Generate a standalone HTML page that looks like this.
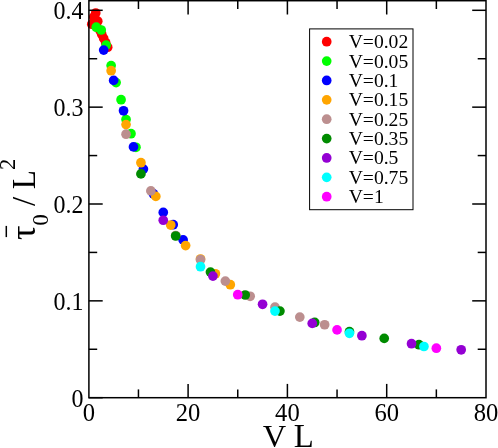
<!DOCTYPE html>
<html><head><meta charset="utf-8"><title>plot</title>
<style>
html,body{margin:0;padding:0;background:#fff;}
body{width:498px;height:448px;overflow:hidden;}
svg{display:block;will-change:transform;}
text{font-family:"Liberation Serif",serif;fill:#000;}
</style></head><body>
<svg width="498" height="448" viewBox="0 0 498 448">
<rect x="0" y="0" width="498" height="448" fill="#ffffff"/>

<g stroke="none">
<circle cx="91.78" cy="24.20" r="4.85" fill="#ff0000"/>
<circle cx="93.77" cy="17.00" r="4.85" fill="#ff0000"/>
<circle cx="95.75" cy="13.00" r="4.85" fill="#ff0000"/>
<circle cx="97.74" cy="21.20" r="4.85" fill="#ff0000"/>
<circle cx="99.72" cy="30.00" r="4.85" fill="#ff0000"/>
<circle cx="101.71" cy="34.30" r="4.85" fill="#ff0000"/>
<circle cx="103.69" cy="38.40" r="4.85" fill="#ff0000"/>
<circle cx="105.68" cy="42.80" r="4.85" fill="#ff0000"/>
<circle cx="107.67" cy="47.20" r="4.85" fill="#ff0000"/>
<circle cx="96.25" cy="27.20" r="4.85" fill="#00ff00"/>
<circle cx="101.21" cy="30.00" r="4.85" fill="#00ff00"/>
<circle cx="106.18" cy="45.10" r="4.85" fill="#00ff00"/>
<circle cx="111.14" cy="65.60" r="4.85" fill="#00ff00"/>
<circle cx="116.11" cy="82.60" r="4.85" fill="#00ff00"/>
<circle cx="121.07" cy="99.70" r="4.85" fill="#00ff00"/>
<circle cx="126.04" cy="119.50" r="4.85" fill="#00ff00"/>
<circle cx="131.00" cy="133.70" r="4.85" fill="#00ff00"/>
<circle cx="135.97" cy="147.30" r="4.85" fill="#00ff00"/>
<circle cx="103.69" cy="50.10" r="4.85" fill="#0000ff"/>
<circle cx="113.62" cy="80.40" r="4.85" fill="#0000ff"/>
<circle cx="123.55" cy="110.80" r="4.85" fill="#0000ff"/>
<circle cx="133.49" cy="146.90" r="4.85" fill="#0000ff"/>
<circle cx="143.41" cy="169.10" r="4.85" fill="#0000ff"/>
<circle cx="153.34" cy="193.70" r="4.85" fill="#0000ff"/>
<circle cx="163.27" cy="212.40" r="4.85" fill="#0000ff"/>
<circle cx="173.20" cy="224.70" r="4.85" fill="#0000ff"/>
<circle cx="183.13" cy="239.90" r="4.85" fill="#0000ff"/>
<circle cx="111.14" cy="70.70" r="4.85" fill="#ffa500"/>
<circle cx="126.04" cy="124.60" r="4.85" fill="#ffa500"/>
<circle cx="140.93" cy="162.70" r="4.85" fill="#ffa500"/>
<circle cx="155.83" cy="196.40" r="4.85" fill="#ffa500"/>
<circle cx="170.72" cy="225.05" r="4.85" fill="#ffa500"/>
<circle cx="185.62" cy="245.60" r="4.85" fill="#ffa500"/>
<circle cx="200.51" cy="259.00" r="4.85" fill="#ffa500"/>
<circle cx="215.41" cy="273.80" r="4.85" fill="#ffa500"/>
<circle cx="230.30" cy="284.70" r="4.85" fill="#ffa500"/>
<circle cx="126.04" cy="134.20" r="4.85" fill="#bc8f8f"/>
<circle cx="150.86" cy="190.90" r="4.85" fill="#bc8f8f"/>
<circle cx="175.69" cy="235.50" r="4.85" fill="#bc8f8f"/>
<circle cx="200.51" cy="259.70" r="4.85" fill="#bc8f8f"/>
<circle cx="225.34" cy="281.10" r="4.85" fill="#bc8f8f"/>
<circle cx="250.16" cy="296.30" r="4.85" fill="#bc8f8f"/>
<circle cx="274.99" cy="307.20" r="4.85" fill="#bc8f8f"/>
<circle cx="299.81" cy="317.10" r="4.85" fill="#bc8f8f"/>
<circle cx="324.64" cy="324.75" r="4.85" fill="#bc8f8f"/>
<circle cx="140.93" cy="173.90" r="4.85" fill="#008b00"/>
<circle cx="175.69" cy="236.00" r="4.85" fill="#008b00"/>
<circle cx="210.44" cy="272.10" r="4.85" fill="#008b00"/>
<circle cx="245.20" cy="295.00" r="4.85" fill="#008b00"/>
<circle cx="279.95" cy="311.10" r="4.85" fill="#008b00"/>
<circle cx="314.71" cy="322.45" r="4.85" fill="#008b00"/>
<circle cx="349.46" cy="331.70" r="4.85" fill="#008b00"/>
<circle cx="384.22" cy="338.40" r="4.85" fill="#008b00"/>
<circle cx="418.97" cy="344.70" r="4.85" fill="#008b00"/>
<circle cx="163.27" cy="220.25" r="4.85" fill="#9400d3"/>
<circle cx="212.93" cy="276.10" r="4.85" fill="#9400d3"/>
<circle cx="262.57" cy="304.30" r="4.85" fill="#9400d3"/>
<circle cx="312.22" cy="323.40" r="4.85" fill="#9400d3"/>
<circle cx="361.88" cy="335.70" r="4.85" fill="#9400d3"/>
<circle cx="411.52" cy="343.70" r="4.85" fill="#9400d3"/>
<circle cx="461.18" cy="349.80" r="4.85" fill="#9400d3"/>
<circle cx="200.51" cy="266.70" r="4.85" fill="#00ffff"/>
<circle cx="274.99" cy="311.10" r="4.85" fill="#00ffff"/>
<circle cx="349.46" cy="333.30" r="4.85" fill="#00ffff"/>
<circle cx="423.94" cy="346.50" r="4.85" fill="#00ffff"/>
<circle cx="237.75" cy="294.70" r="4.85" fill="#ff00ff"/>
<circle cx="337.05" cy="329.90" r="4.85" fill="#ff00ff"/>
<circle cx="436.35" cy="348.20" r="4.85" fill="#ff00ff"/>
</g>
<g stroke="#000" stroke-width="1.5" fill="none" stroke-linecap="butt">
<rect x="88.9" y="0.7" width="397.1" height="397.0"/>
<line x1="138.45" y1="397.7" x2="138.45" y2="389.4"/>
<line x1="138.45" y1="0.7" x2="138.45" y2="9.0"/>
<line x1="188.10" y1="397.7" x2="188.10" y2="383.9"/>
<line x1="188.10" y1="0.7" x2="188.10" y2="14.5"/>
<line x1="237.75" y1="397.7" x2="237.75" y2="389.4"/>
<line x1="237.75" y1="0.7" x2="237.75" y2="9.0"/>
<line x1="287.40" y1="397.7" x2="287.40" y2="383.9"/>
<line x1="287.40" y1="0.7" x2="287.40" y2="14.5"/>
<line x1="337.05" y1="397.7" x2="337.05" y2="389.4"/>
<line x1="337.05" y1="0.7" x2="337.05" y2="9.0"/>
<line x1="386.70" y1="397.7" x2="386.70" y2="383.9"/>
<line x1="386.70" y1="0.7" x2="386.70" y2="14.5"/>
<line x1="436.35" y1="397.7" x2="436.35" y2="389.4"/>
<line x1="436.35" y1="0.7" x2="436.35" y2="9.0"/>
<line x1="88.9" y1="349.27" x2="97.2" y2="349.27"/>
<line x1="486.0" y1="349.27" x2="477.7" y2="349.27"/>
<line x1="88.9" y1="300.85" x2="102.7" y2="300.85"/>
<line x1="486.0" y1="300.85" x2="472.2" y2="300.85"/>
<line x1="88.9" y1="252.42" x2="97.2" y2="252.42"/>
<line x1="486.0" y1="252.42" x2="477.7" y2="252.42"/>
<line x1="88.9" y1="204.00" x2="102.7" y2="204.00"/>
<line x1="486.0" y1="204.00" x2="472.2" y2="204.00"/>
<line x1="88.9" y1="155.57" x2="97.2" y2="155.57"/>
<line x1="486.0" y1="155.57" x2="477.7" y2="155.57"/>
<line x1="88.9" y1="107.15" x2="102.7" y2="107.15"/>
<line x1="486.0" y1="107.15" x2="472.2" y2="107.15"/>
<line x1="88.9" y1="58.72" x2="97.2" y2="58.72"/>
<line x1="486.0" y1="58.72" x2="477.7" y2="58.72"/>
<line x1="88.9" y1="10.30" x2="102.7" y2="10.30"/>
<line x1="486.0" y1="10.30" x2="472.2" y2="10.30"/>
<line x1="88.9" y1="397.7" x2="102.7" y2="397.7"/>
</g>
<text transform="translate(88.80,420.6) scale(1.0,1)" font-size="24.6" text-anchor="middle">0</text>
<text transform="translate(188.10,420.6) scale(1.0,1)" font-size="24.6" text-anchor="middle">20</text>
<text transform="translate(287.40,420.6) scale(1.0,1)" font-size="24.6" text-anchor="middle">40</text>
<text transform="translate(386.70,420.6) scale(1.0,1)" font-size="24.6" text-anchor="middle">60</text>
<text transform="translate(486.00,420.6) scale(1.0,1)" font-size="24.6" text-anchor="middle">80</text>
<text transform="translate(83.4,406.50) scale(0.975,1)" font-size="24.6" text-anchor="end">0</text>
<text transform="translate(83.4,309.65) scale(0.975,1)" font-size="24.6" text-anchor="end">0.1</text>
<text transform="translate(83.4,212.80) scale(0.975,1)" font-size="24.6" text-anchor="end">0.2</text>
<text transform="translate(83.4,115.95) scale(0.975,1)" font-size="24.6" text-anchor="end">0.3</text>
<text transform="translate(83.4,19.10) scale(0.975,1)" font-size="24.6" text-anchor="end">0.4</text>
<text x="262.7" y="447" font-size="32.5">V</text>
<text x="293.8" y="447" font-size="32.8">L</text>
<g transform="translate(35.3,240) rotate(-90)">
<text x="0" y="0" font-size="36">τ</text>
<line x1="2.9" y1="-29" x2="14.1" y2="-29" stroke="#000" stroke-width="1.5"/>
<text x="14.6" y="13.0" font-size="22.5">0</text>
<text x="34.1" y="0" font-size="33">/</text>
<text transform="translate(50.8,0) scale(0.94,1)" font-size="33.2">L</text>
<text x="70.0" y="-20.5" font-size="22.5">2</text>
</g>
<rect x="309.6" y="28.9" width="103.4" height="180.8" fill="#fff" stroke="#000" stroke-width="1"/>
<circle cx="326.7" cy="41.70" r="4.85" fill="#ff0000"/>
<text transform="translate(348.7,48.20)" font-size="19.6">V=0.02</text>
<circle cx="326.7" cy="61.08" r="4.85" fill="#00ff00"/>
<text transform="translate(348.7,67.58)" font-size="19.6">V=0.05</text>
<circle cx="326.7" cy="80.45" r="4.85" fill="#0000ff"/>
<text transform="translate(348.7,86.95)" font-size="19.6">V=0.1</text>
<circle cx="326.7" cy="99.83" r="4.85" fill="#ffa500"/>
<text transform="translate(348.7,106.33)" font-size="19.6">V=0.15</text>
<circle cx="326.7" cy="119.20" r="4.85" fill="#bc8f8f"/>
<text transform="translate(348.7,125.70)" font-size="19.6">V=0.25</text>
<circle cx="326.7" cy="138.57" r="4.85" fill="#008b00"/>
<text transform="translate(348.7,145.07)" font-size="19.6">V=0.35</text>
<circle cx="326.7" cy="157.95" r="4.85" fill="#9400d3"/>
<text transform="translate(348.7,164.45)" font-size="19.6">V=0.5</text>
<circle cx="326.7" cy="177.32" r="4.85" fill="#00ffff"/>
<text transform="translate(348.7,183.82)" font-size="19.6">V=0.75</text>
<circle cx="326.7" cy="196.70" r="4.85" fill="#ff00ff"/>
<text transform="translate(348.7,203.20)" font-size="19.6">V=1</text>
</svg></body></html>
